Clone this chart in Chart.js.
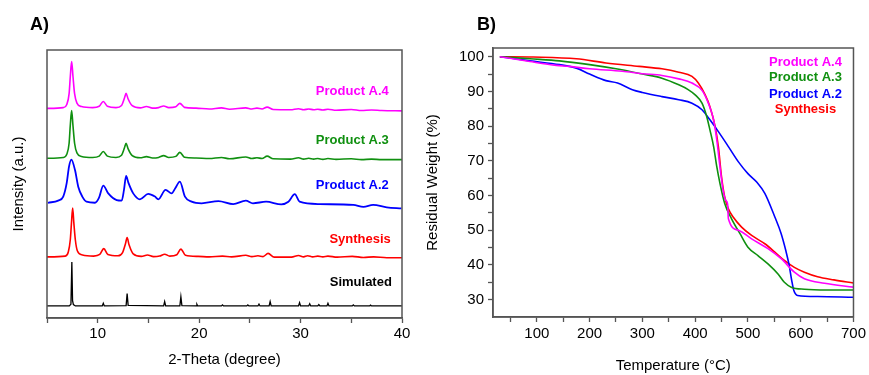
<!DOCTYPE html>
<html>
<head>
<meta charset="utf-8">
<script src="https://cdn.jsdelivr.net/npm/chart.js@4.4.1/dist/chart.umd.min.js"></script>
<style>
  html, body { margin: 0; padding: 0; background: #fff; }
  .wrap { position: relative; width: 869px; height: 375px; overflow: hidden; }
  .panel { position: absolute; top: 0; height: 375px; }
  #panelA { left: 0; width: 420px; }
  #panelB { left: 420px; width: 449px; }
  .tag { position: absolute; font: bold 18px "Liberation Sans", Arial, sans-serif; color: #000; }
</style>
</head>
<body>
<div class="wrap">
  <div class="panel" id="panelA"><canvas id="xrdChart" width="420" height="375"></canvas></div>
  <div class="panel" id="panelB"><canvas id="tgaChart" width="449" height="375"></canvas></div>
  <div class="tag" style="left:30px;top:14px">A)</div>
  <div class="tag" style="left:477px;top:14px">B)</div>
</div>
<script>
// ---- XRD patterns, [2-theta, relative intensity (a.u.)] ----
const xrdA4 = [[5,0],[6.6,0.3],[6.95,1.5],[7.18,5.5],[7.3,12],[7.43,17.5],[7.56,12],[7.72,5.5],[7.95,2.0],[8.4,0.7],[9.5,0.3],[10.15,0.8],[10.55,2.6],[10.95,0.8],[11.8,0.3],[12.35,1.1],[12.63,3.8],[12.8,5.6],[12.99,3.6],[13.4,1.0],[14.2,0.2],[14.8,0.7],[15.4,0.1],[16.0,0.3],[16.5,0.9],[17.0,0.3],[17.7,0.6],[18.1,1.9],[18.55,0.4],[19.7,0.1],[21,-0.2],[22.2,0.2],[23,-0.3],[24.6,0.2],[25.2,-0.2],[25.7,0.1],[26.2,-0.2],[26.7,0.5],[27.3,-0.4],[29,-0.5],[29.8,-0.1],[30.3,-0.5],[30.8,-0.2],[31.3,-0.5],[31.7,-0.3],[32.2,-0.6],[32.7,-0.3],[33.5,-0.7],[35,-0.4],[36,-0.8],[37,-0.6],[38,-0.8],[40,-0.9]];
const xrdA3 = [[5,0],[6.6,0.3],[6.95,1.5],[7.18,5.6],[7.3,12.5],[7.43,17.8],[7.56,12.2],[7.72,5.6],[7.95,2.0],[8.4,0.7],[9.5,0.3],[10.15,0.8],[10.55,2.5],[10.95,0.8],[11.8,0.3],[12.35,1.1],[12.63,3.8],[12.8,5.6],[12.99,3.6],[13.4,1.0],[14.2,0.2],[14.8,0.6],[15.4,0.1],[16.0,0.3],[16.5,1.0],[17.0,0.3],[17.7,0.7],[18.1,2.2],[18.55,0.4],[19.7,0.1],[21,-0.1],[22.2,0.3],[23,-0.2],[24.6,0.5],[25.2,-0.1],[25.7,0.2],[26.2,-0.1],[26.7,0.8],[27.3,-0.2],[29,-0.3],[29.8,0.2],[30.3,-0.3],[30.8,0],[31.3,-0.3],[31.7,-0.1],[32.2,-0.4],[32.7,-0.1],[33.5,-0.4],[35,-0.2],[36,-0.5],[37,-0.3],[38,-0.5],[40,-0.5]];
const xrdA2 = [[5.1,-0.4],[6.1,0.4],[6.6,1.9],[6.94,6.9],[7.17,13.1],[7.4,15.7],[7.76,11.8],[8.08,5.6],[8.48,1.9],[8.9,0],[9.73,-0.4],[10.12,1.4],[10.55,6.0],[11.04,3.1],[11.87,0.6],[12.36,0.4],[12.59,4.4],[12.8,9.6],[13.03,7.0],[13.5,3.1],[14.16,0.9],[14.98,2.9],[15.64,1.9],[15.97,0.9],[16.69,4.4],[17.29,3.1],[17.66,5.1],[18.1,7.5],[18.6,1.9],[19.26,0],[20.24,-0.6],[21.9,0.2],[23.36,-0.9],[24.6,0.4],[25.3,-0.6],[26.6,0],[28.1,-1.0],[28.8,0],[29.43,2.8],[29.9,0],[31.9,-0.9],[35.2,-1.2],[36.2,-1.9],[37.15,-1.2],[38.5,-2.1],[39.95,-2.5]];
const xrdSynthesis = [[5,0],[6.8,0.3],[7.1,1.8],[7.3,6.5],[7.41,12.5],[7.53,18.2],[7.65,12.5],[7.79,6.5],[8.0,2.2],[8.5,0.7],[9.6,0.3],[10.2,0.9],[10.6,3.1],[11.0,0.9],[12.0,0.4],[12.45,1.6],[12.73,4.8],[12.9,7.2],[13.09,4.5],[13.5,1.1],[14.3,0.2],[14.9,0.7],[15.5,0.1],[16.1,0.3],[16.6,1.0],[17.1,0.3],[17.8,0.8],[18.2,2.9],[18.65,0.6],[19.9,0.2],[21,0],[22.3,0.3],[23.2,0],[24.6,0.6],[25.2,0.1],[25.8,0.4],[26.3,0.1],[26.8,1.3],[27.4,-0.1],[29.1,-0.1],[29.8,0.5],[30.3,0],[30.7,0.4],[31.2,0],[31.7,0.3],[32.2,0],[32.7,0.3],[33.6,-0.1],[35.1,0.2],[36.2,-0.2],[37.2,0],[38.5,-0.3],[40,-0.3]];
const xrdSimulated = [[5,0],[7.2,0],[7.36,0.6],[7.45,16.4],[7.52,2],[7.6,0.5],[7.8,0],[10.45,0],[10.55,1.0],[10.65,0],[12.8,0.1],[12.9,4.6],[13.0,0.2],[16.5,0],[16.6,1.6],[16.7,0],[18.1,0],[18.2,3.4],[18.3,0.1],[19.7,0],[19.78,0.6],[19.86,0],[22.2,0],[22.3,0.4],[22.4,0],[24.7,0],[24.8,0.4],[24.9,0],[25.8,0],[25.9,0.7],[26.0,0],[26.9,0],[27.0,1.6],[27.1,0],[29.8,0],[29.9,1.2],[30.0,0],[30.8,0],[30.9,0.8],[31.0,0],[31.7,0],[31.8,0.5],[31.9,0],[32.6,0],[32.7,1.0],[32.8,0],[35.1,0],[35.2,0.4],[35.3,0],[36.8,0],[36.9,0.3],[37.0,0],[40,0]];
// vertical stacking offset of each pattern
const xrdOffsets = { a4: 78.2, a3: 59.6, a2: 43.4, synthesis: 22.8, simulated: 4.5 };

// ---- TGA curves, [temperature (C), residual weight (%)] ----
const tgaA4 = [[30,100],[87,98.6],[137,97.5],[162,97.2],[200,96.5],[262,95.8],[300,95.1],[337,94.6],[369,93.6],[394,92.4],[413,90.3],[425,86.6],[435,81.8],[441,76.0],[447,68.3],[453,61.5],[458,58.6],[461.5,57.5],[463,53.3],[482,50.0],[507,47.5],[538,44.7],[563,41.8],[588,37.9],[607,36.0],[645,34.7],[700,33.6]];
const tgaA3 = [[30,100],[87,99.4],[143,98.8],[200,97.7],[250,96.5],[300,95.0],[337,93.8],[369,91.9],[386,90.6],[400,89.0],[413,86.6],[422,82.7],[428,78.9],[435,74.1],[441,68.3],[447,63.5],[456,57.7],[469,53.3],[485,49.0],[500,45.1],[519,42.7],[538,40.3],[557,37.4],[569,35.0],[582,33.6],[607,33.0],[651,32.8],[700,32.8]];
const tgaA2 = [[30,100],[87,98.8],[143,97.7],[175,96.7],[200,95.0],[231,93.1],[253,92.4],[281,90.5],[300,89.7],[337,88.5],[369,87.6],[394,86.6],[413,84.7],[428,81.8],[444,78.4],[463,74.1],[482,69.7],[500,66.3],[517,63.8],[532,60.6],[551,53.8],[563,49.0],[572,44.0],[578,40.0],[583,35.5],[587,32.6],[594,31.2],[632,30.9],[700,30.7]];
const tgaSynthesis = [[30,100],[93,99.9],[175,99.4],[231,98.2],[294,97.2],[337,96.5],[369,95.5],[394,94.3],[406,92.4],[419,89.0],[428,85.6],[438,79.8],[444,74.1],[450,65.4],[456,59.6],[463,56.2],[472,53.8],[488,50.9],[507,48.5],[532,46.1],[551,43.7],[569,41.3],[588,39.3],[607,37.9],[632,36.6],[663,35.7],[700,34.8]];

const xrdTicks = [5, 10, 15, 20, 25, 30, 35, 40];
const tempTicks = [50, 100, 150, 200, 250, 300, 350, 400, 450, 500, 550, 600, 650, 700];
const weightTicks = [30, 35, 40, 45, 50, 55, 60, 65, 70, 75, 80, 85, 90, 95, 100];

const COLORS = { a4: '#ff00ff', a3: '#109010', a2: '#0000ff', synthesis: '#ff0000', simulated: '#000000' };
const FONT = '"Liberation Sans", Arial, sans-serif';
const AXIS = '#555555';

Chart.defaults.font.family = FONT;
Chart.defaults.color = '#000';

const toPoints = (arr, off = 0) => arr.map(([x, y]) => ({ x, y: y + off }));

const framePlugin = {
  id: 'frame',
  afterDatasetsDraw(chart) {
    const { ctx, chartArea: a } = chart;
    ctx.save();
    ctx.strokeStyle = AXIS;
    ctx.lineWidth = 1.5;
    ctx.strokeRect(a.left, a.top, a.right - a.left, a.bottom - a.top);
    ctx.restore();
  },
};

// text labels placed in data coordinates
const labelPlugin = {
  id: 'textLabels',
  afterDatasetsDraw(chart, args, opts) {
    const { ctx, scales } = chart;
    ctx.save();
    ctx.font = `bold 13px ${FONT}`;
    ctx.textBaseline = 'middle';
    for (const l of opts.items || []) {
      ctx.fillStyle = l.color;
      ctx.textAlign = l.align || 'right';
      ctx.fillText(l.text, scales.x.getPixelForValue(l.x), scales.y.getPixelForValue(l.y));
    }
    ctx.restore();
  },
};

const lineDs = (label, data, color, extra = {}) => ({
  label, data, borderColor: color, borderWidth: 1.6, pointRadius: 0,
  cubicInterpolationMode: 'monotone', fill: false, ...extra,
});

const setTicks = (values) => (scale) => { scale.ticks = values.map((value) => ({ value })); };
const tenLabel = (v) => (v % 10 === 0 ? String(v) : '');

new Chart(document.getElementById('xrdChart'), {
  type: 'line',
  data: {
    datasets: [
      lineDs('Product A.4', toPoints(xrdA4, xrdOffsets.a4), COLORS.a4),
      lineDs('Product A.3', toPoints(xrdA3, xrdOffsets.a3), COLORS.a3),
      lineDs('Product A.2', toPoints(xrdA2, xrdOffsets.a2), COLORS.a2, { borderWidth: 1.8 }),
      lineDs('Synthesis', toPoints(xrdSynthesis, xrdOffsets.synthesis), COLORS.synthesis),
      lineDs('Simulated', toPoints(xrdSimulated, xrdOffsets.simulated), COLORS.simulated, { borderWidth: 1.3, cubicInterpolationMode: 'default', tension: 0 }),
    ],
  },
  options: {
    responsive: false,
    animation: false,
    layout: { padding: { top: 50, right: 18, left: 0, bottom: 0 } },
    plugins: {
      legend: { display: false },
      tooltip: { enabled: false },
      textLabels: {
        items: [
          { text: 'Product A.4', x: 38.7, y: 84.7, color: COLORS.a4 },
          { text: 'Product A.3', x: 38.7, y: 66.4, color: COLORS.a3 },
          { text: 'Product A.2', x: 38.7, y: 49.3, color: COLORS.a2 },
          { text: 'Synthesis', x: 38.9, y: 29.5, color: COLORS.synthesis },
          { text: 'Simulated', x: 39.0, y: 13.1, color: COLORS.simulated },
        ],
      },
    },
    scales: {
      x: {
        type: 'linear', min: 5, max: 40,
        afterBuildTicks: setTicks(xrdTicks),
        afterFit: (s) => { s.height = 57; },
        ticks: { autoSkip: false, maxRotation: 0, padding: 2, font: { size: 15 }, callback: tenLabel },
        grid: { drawOnChartArea: false, tickLength: 5, color: AXIS, tickWidth: 1.3 },
        border: { color: AXIS, width: 1.5 },
        title: { display: true, text: '2-Theta (degree)', font: { size: 15 }, padding: { top: 0, bottom: 6 } },
      },
      y: {
        min: 0, max: 100,
        afterFit: (s) => { s.width = 47; },
        ticks: { display: false },
        grid: { display: false },
        border: { display: false },
        title: { display: true, text: 'Intensity (a.u.)', font: { size: 15 }, padding: { top: 10, bottom: 0 } },
      },
    },
  },
  plugins: [framePlugin, labelPlugin],
});

new Chart(document.getElementById('tgaChart'), {
  type: 'line',
  data: {
    datasets: [
      lineDs('Product A.4', toPoints(tgaA4), COLORS.a4),
      lineDs('Product A.3', toPoints(tgaA3), COLORS.a3),
      lineDs('Product A.2', toPoints(tgaA2), COLORS.a2),
      lineDs('Synthesis', toPoints(tgaSynthesis), COLORS.synthesis),
    ],
  },
  options: {
    responsive: false,
    animation: false,
    layout: { padding: { top: 48, right: 12, left: 0, bottom: 0 } },
    plugins: {
      legend: { display: false },
      tooltip: { enabled: false },
      textLabels: {
        items: [
          { text: 'Product A.4', x: 609, y: 98.3, color: COLORS.a4, align: 'center' },
          { text: 'Product A.3', x: 609, y: 93.9, color: COLORS.a3, align: 'center' },
          { text: 'Product A.2', x: 609, y: 89.0, color: COLORS.a2, align: 'center' },
          { text: 'Synthesis', x: 609, y: 84.7, color: COLORS.synthesis, align: 'center' },
        ],
      },
    },
    scales: {
      x: {
        type: 'linear', min: 17, max: 700,
        afterBuildTicks: setTicks(tempTicks),
        afterFit: (s) => { s.height = 58; },
        ticks: { autoSkip: false, maxRotation: 0, padding: 3, font: { size: 15 }, callback: (v) => (v % 100 === 0 ? String(v) : '') },
        grid: { drawOnChartArea: false, tickLength: 5, color: AXIS, tickWidth: 1.3 },
        border: { color: AXIS, width: 1.5 },
        title: { display: true, text: 'Temperature (°C)', font: { size: 15 }, padding: { top: 0, bottom: 0 } },
      },
      y: {
        min: 25, max: 102.5,
        afterBuildTicks: setTicks(weightTicks),
        afterFit: (s) => { s.width = 73; },
        ticks: { autoSkip: false, padding: 4, font: { size: 15 }, callback: tenLabel },
        grid: { drawOnChartArea: false, tickLength: 5, color: AXIS, tickWidth: 1.3 },
        border: { color: AXIS, width: 1.5 },
        title: { display: true, text: 'Residual Weight (%)', font: { size: 15 }, padding: { top: 4, bottom: 0 } },
      },
    },
  },
  plugins: [framePlugin, labelPlugin],
});
</script>
</body>
</html>
